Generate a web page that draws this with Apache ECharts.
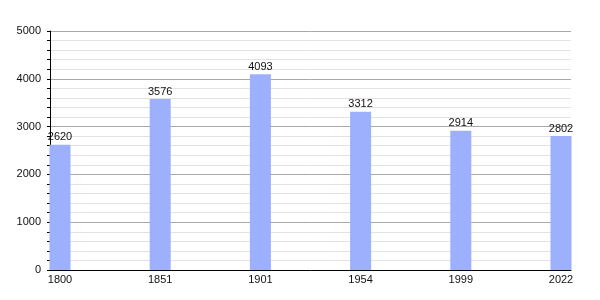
<!DOCTYPE html>
<html>
<head>
<meta charset="utf-8">
<script src="https://cdn.jsdelivr.net/npm/echarts@6/dist/echarts.min.js"></script>
<style>html,body{margin:0;padding:0;background:#fff}#c{width:600px;height:300px}</style>
</head>
<body>
<div id="c"></div>
<script>
var years = ['1800', '1851', '1901', '1954', '1999', '2022'];
var population = [2620, 3576, 4093, 3312, 2914, 2802];
var yTicks = [0, 1000, 2000, 3000, 4000, 5000];

var font = 'Liberation Sans, Arial, sans-serif';
var chart = echarts.init(document.getElementById('c'), null, {renderer: 'canvas'});
chart.setOption({
  animation: false,
  backgroundColor: '#ffffff',
  grid: [
    {left: 50, right: 29, top: 31, bottom: 30},
    {left: 60, right: 39, top: 31, bottom: 30}
  ],
  xAxis: [
    {
      gridIndex: 0, type: 'category', data: years, boundaryGap: false,
      axisLine: {show: true, lineStyle: {color: '#000', width: 1}},
      axisTick: {show: false}, axisLabel: {show: false}, splitLine: {show: false}, z: 5
    },
    {
      gridIndex: 1, type: 'category', data: years, boundaryGap: false,
      axisLine: {show: false}, axisTick: {show: false},
      axisLabel: {color: '#111', fontSize: 11, fontFamily: font, margin: 4}
    }
  ],
  yAxis: [
    {
      gridIndex: 0, type: 'value', min: yTicks[0], max: yTicks[yTicks.length - 1], interval: 1000,
      axisLine: {show: true, lineStyle: {color: '#000', width: 1}},
      axisTick: {show: true, length: 3, lineStyle: {color: '#000'}},
      minorTick: {show: true, splitNumber: 5, length: 3, lineStyle: {color: '#000'}},
      axisLabel: {color: '#111', fontSize: 11, fontFamily: font, margin: 9,
        formatter: function (v) { return String(v); }},
      splitLine: {show: true, lineStyle: {color: '#a8a8a8', width: 1}},
      minorSplitLine: {show: true, lineStyle: {color: '#e2e2e2', width: 1}}
    },
    {
      gridIndex: 1, type: 'value', min: yTicks[0], max: yTicks[yTicks.length - 1], show: false,
      splitLine: {show: false}
    }
  ],
  series: [{
    type: 'bar', xAxisIndex: 1, yAxisIndex: 1, data: population,
    barWidth: 21,
    itemStyle: {color: '#9cb0fd'},
    label: {show: true, position: 'top', distance: 2, color: '#111', fontSize: 11, fontFamily: font},
    z: 3
  }]
});
</script>
</body>
</html>
